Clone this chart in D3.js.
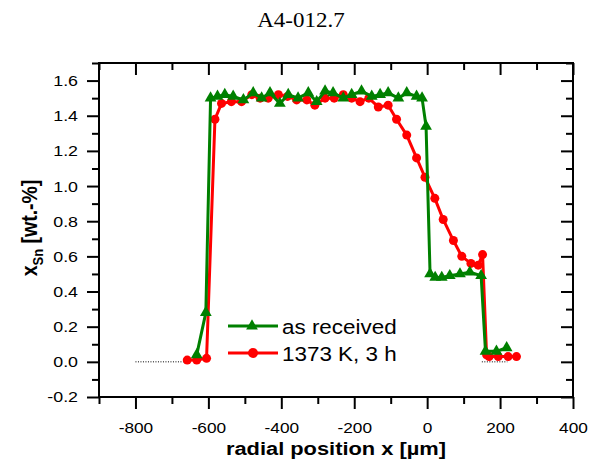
<!DOCTYPE html>
<html>
<head>
<meta charset="utf-8">
<script src="https://cdn.jsdelivr.net/npm/d3@7"></script>
<style>
  body { margin: 0; background: #fff; }
  svg { display: block; }
</style>
</head>
<body>
<div id="chart"></div>
<script>
// as received (green triangles)
const greenX = [-632, -607, -594, -575, -555, -532, -504, -477, -454, -431, -404, -381, -354, -326, -303, -280, -258, -230, -207, -180, -152, -129, -107, -79, -56, -29, -14, -3, 8, 22, 40, 62, 90, 117, 148, 160, 190, 218];
const greenY = [0.04, 0.28, 1.50, 1.51, 1.52, 1.51, 1.49, 1.53, 1.50, 1.53, 1.47, 1.52, 1.50, 1.53, 1.48, 1.54, 1.53, 1.50, 1.52, 1.54, 1.51, 1.52, 1.53, 1.50, 1.53, 1.51, 1.50, 1.34, 0.50, 0.48, 0.48, 0.49, 0.50, 0.51, 0.49, 0.06, 0.06, 0.08];

// 1373 K, 3 h (red circles)
const redX = [-658, -632, -605, -582, -564, -537, -509, -481, -458, -436, -408, -383, -358, -330, -308, -280, -255, -230, -207, -184, -160, -134, -107, -84, -56, -29, -6, 21, 44, 72, 95, 120, 140, 152, 163, 170, 195, 222, 245];
const redY = [0.01, 0.01, 0.02, 1.38, 1.47, 1.48, 1.48, 1.52, 1.50, 1.50, 1.52, 1.51, 1.49, 1.49, 1.46, 1.50, 1.50, 1.52, 1.50, 1.48, 1.50, 1.45, 1.46, 1.38, 1.29, 1.16, 1.05, 0.93, 0.81, 0.69, 0.60, 0.56, 0.55, 0.61, 0.04, 0.03, 0.03, 0.03, 0.03];

// dotted zero baselines
const baseStart = [-800, 150];
const baseEnd = [-650, 220];

const seriesNames = ['as received', '1373 K, 3 h'];
const xMajor = [-800, -600, -400, -200, 0, 200, 400];
const xMinor = [-900, -700, -500, -300, -100, 100, 300];
const yMajor = [-0.2, 0, 0.2, 0.4, 0.6, 0.8, 1.0, 1.2, 1.4, 1.6];
const yMinor = [-0.1, 0.1, 0.3, 0.5, 0.7, 0.9, 1.1, 1.3, 1.5, 1.7];

const width = 590, height = 465;
const plot = { left: 99, right: 573, top: 63, bottom: 397 };
const SX = 1.15; // the source picture is stretched horizontally
const sans = '"Liberation Sans", Arial, sans-serif';
const green = '#008000', red = '#ff0000';

const svg = d3.select('#chart').append('svg')
  .attr('width', width)
  .attr('height', height)
  .style('font-family', sans);

const x = d3.scaleLinear().domain([-900, 400]).range([plot.left, plot.right]);
const y = d3.scaleLinear().domain([-0.2, 1.7]).range([plot.bottom, plot.top]);

// title
svg.append('text')
  .attr('transform', `translate(301,27) scale(${SX},1)`)
  .attr('text-anchor', 'middle')
  .style('font-family', '"Liberation Serif", "Times New Roman", serif')
  .style('font-size', '20px')
  .text('A4-012.7');

function styleAxis(g) {
  g.select('.domain').remove();
  g.selectAll('line').attr('stroke', '#000').attr('stroke-width', 2);
}

// bottom axis
svg.append('g')
  .attr('transform', `translate(0,${plot.bottom})`)
  .call(d3.axisBottom(x).tickValues(xMajor).tickSize(12).tickSizeOuter(0)
    .tickPadding(13).tickFormat(d => String(d)))
  .call(styleAxis)
  .call(g => g.selectAll('text')
    .attr('transform', `scale(${SX},1)`)
    .style('font-size', '15px').style('font-family', sans).attr('fill', '#000'));
svg.append('g')
  .attr('transform', `translate(0,${plot.bottom})`)
  .call(d3.axisBottom(x).tickValues(xMinor).tickSize(7).tickSizeOuter(0).tickFormat(''))
  .call(styleAxis);

// top axis (ticks inward)
svg.append('g')
  .attr('transform', `translate(0,${plot.top})`)
  .call(d3.axisTop(x).tickValues(xMajor).tickSize(-12).tickSizeOuter(0).tickFormat(''))
  .call(styleAxis);
svg.append('g')
  .attr('transform', `translate(0,${plot.top})`)
  .call(d3.axisTop(x).tickValues(xMinor).tickSize(-7).tickSizeOuter(0).tickFormat(''))
  .call(styleAxis);

// left axis
svg.append('g')
  .attr('transform', `translate(${plot.left},0)`)
  .call(d3.axisLeft(y).tickValues(yMajor).tickSize(12).tickSizeOuter(0)
    .tickFormat(d => d.toFixed(1)))
  .call(styleAxis)
  .call(g => g.selectAll('text')
    .attr('x', -21 / SX)
    .attr('transform', `scale(${SX},1)`)
    .style('font-size', '15.5px').style('font-family', sans).attr('fill', '#000'));
svg.append('g')
  .attr('transform', `translate(${plot.left},0)`)
  .call(d3.axisLeft(y).tickValues(yMinor).tickSize(7).tickSizeOuter(0).tickFormat(''))
  .call(styleAxis);

// right axis (ticks inward)
svg.append('g')
  .attr('transform', `translate(${plot.right},0)`)
  .call(d3.axisRight(y).tickValues(yMajor).tickSize(-12).tickSizeOuter(0).tickFormat(''))
  .call(styleAxis);
svg.append('g')
  .attr('transform', `translate(${plot.right},0)`)
  .call(d3.axisRight(y).tickValues(yMinor).tickSize(-7).tickSizeOuter(0).tickFormat(''))
  .call(styleAxis);

// frame
svg.append('rect')
  .attr('x', plot.left).attr('y', plot.top)
  .attr('width', plot.right - plot.left).attr('height', plot.bottom - plot.top)
  .attr('fill', 'none').attr('stroke', '#000').attr('stroke-width', 2);

// axis titles
svg.append('text')
  .attr('transform', `translate(336,455) scale(${SX},1)`)
  .attr('text-anchor', 'middle')
  .style('font-size', '19px').style('font-weight', 'bold')
  .text('radial position x [µm]');

const ylab = svg.append('text')
  .attr('transform', `translate(37,228) rotate(-90) scale(1,${SX})`)
  .attr('text-anchor', 'middle')
  .style('font-size', '19.5px').style('font-weight', 'bold');
ylab.append('tspan').text('x');
ylab.append('tspan').attr('dy', 5).style('font-size', '13px').text('Sn');
ylab.append('tspan').attr('dy', -5).text(' [wt.-%]');

// dotted baselines at zero
svg.append('g').selectAll('line')
  .data(baseStart.map((d, i) => [d, baseEnd[i]]))
  .join('line')
  .attr('x1', d => x(d[0])).attr('x2', d => x(d[1]))
  .attr('y1', y(0)).attr('y2', y(0))
  .attr('stroke', '#000').attr('stroke-width', 1).attr('stroke-dasharray', '1,1.5');

const line = d3.line().x(d => x(d[0])).y(d => y(d[1]));
const redData = redX.map((d, i) => [d, redY[i]]);
const greenData = greenX.map((d, i) => [d, greenY[i]]);
const tri = d3.symbol().type(d3.symbolTriangle).size(60);

// red series
svg.append('path').datum(redData)
  .attr('d', line).attr('fill', 'none')
  .attr('stroke', red).attr('stroke-width', 3).attr('stroke-linejoin', 'round');
svg.append('g').selectAll('circle')
  .data(redData)
  .join('circle')
  .attr('cx', d => x(d[0])).attr('cy', d => y(d[1])).attr('r', 4.5)
  .attr('fill', red);

// green series
svg.append('path').datum(greenData)
  .attr('d', line).attr('fill', 'none')
  .attr('stroke', green).attr('stroke-width', 3).attr('stroke-linejoin', 'round');
svg.append('g').selectAll('path')
  .data(greenData)
  .join('path')
  .attr('d', tri)
  .attr('transform', d => `translate(${x(d[0])},${y(d[1])})`)
  .attr('fill', green);

// legend
const legend = svg.append('g').attr('transform', 'translate(228,326)');
seriesNames.forEach((name, i) => {
  const row = legend.append('g').attr('transform', `translate(0,${i * 27})`);
  const c = i === 0 ? green : red;
  row.append('line')
    .attr('x1', 0).attr('x2', 50)
    .attr('stroke', c).attr('stroke-width', 3);
  if (i === 0) {
    row.append('path').attr('d', tri).attr('transform', 'translate(24,0)').attr('fill', c);
  } else {
    row.append('circle').attr('cx', 25).attr('r', 5).attr('fill', c);
  }
  row.append('text')
    .attr('transform', `translate(54,8) scale(${SX},1)`)
    .style('font-size', '19.5px')
    .text(name);
});
</script>
</body>
</html>
